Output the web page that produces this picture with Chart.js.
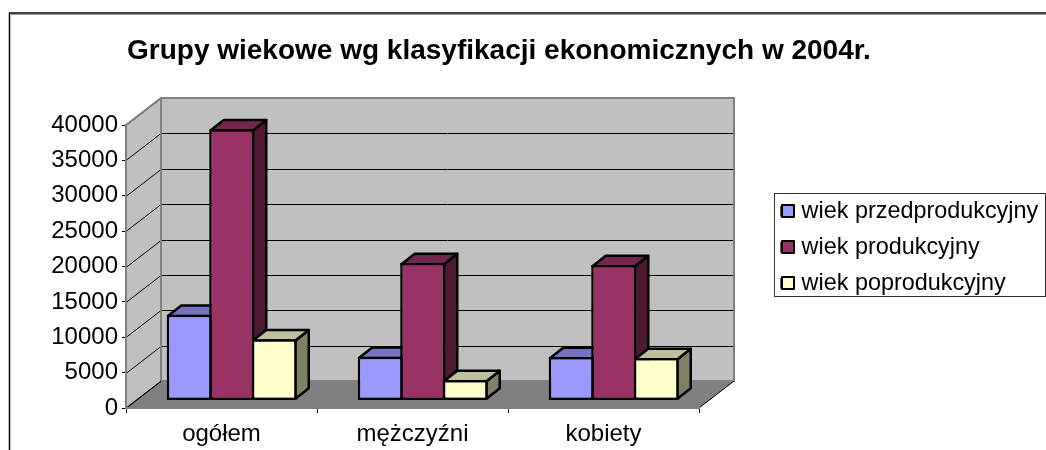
<!DOCTYPE html>
<html><head><meta charset="utf-8">
<style>html,body{margin:0;padding:0;background:#fff}canvas{display:block}</style>
<script src="https://cdn.jsdelivr.net/npm/chart.js@4/dist/chart.umd.min.js"></script>
</head><body><canvas id="c" width="1046" height="450" style="width:1046px;height:450px"></canvas>
<script>
const categories = ['ogółem', 'mężczyźni', 'kobiety'];
const wiekPrzedprodukcyjny = [12130, 6190, 6150];
const wiekProdukcyjny = [38330, 19430, 19150];
const wiekPoprodukcyjny = [8650, 2900, 6010];
const seriesLabels = ['wiek przedprodukcyjny', 'wiek produkcyjny', 'wiek poprodukcyjny'];
const titleText = 'Grupy wiekowe wg klasyfikacji ekonomicznych w 2004r.';
const fills = ['#9999FF', '#993366', '#FFFFCC'];
const tops = ['#7373BF', '#73264D', '#BFBF99'];
const sides = ['#4D4D80', '#4D1933', '#808066'];
const WALL = {dx: 35, dy: -27};
const BAR = {ox: 10.2, oy: -7.5, dx: 13.3, dy: -10.5, lw: 2.5};
const LEGEND_BOX = {x: 774, y: 193, w: 272, h: 104, swatchX: 782, swatchSize: 12, firstRow: 211, rowGap: 36};
const FONT = '"Liberation Sans", Arial, sans-serif';

function poly(ctx, pts, fill, stroke, lw) {
  ctx.beginPath();
  pts.forEach((p, i) => i ? ctx.lineTo(p[0], p[1]) : ctx.moveTo(p[0], p[1]));
  ctx.closePath();
  if (fill) { ctx.fillStyle = fill; ctx.fill(); }
  if (stroke) { ctx.strokeStyle = stroke; ctx.lineWidth = lw; ctx.lineJoin = 'round'; ctx.stroke(); }
}
const scene = {
  id: 'scene',
  afterLayout(chart) {
    const l = chart.legend, t = chart.titleBlock;
    l.left = 769; l.right = 1046; l.top = 187; l.bottom = 450;
    t.left = 127; t.right = 900; t.top = 34; t.bottom = 125;
  },
  beforeDraw(chart) {
    const c = chart.ctx, a = chart.chartArea, y = chart.scales.y;
    const {dx, dy} = WALL;
    c.save();
    c.fillStyle = '#fff'; c.fillRect(0, 0, chart.width, chart.height);
    c.strokeStyle = '#000'; c.lineWidth = 1.5;
    c.beginPath(); c.moveTo(9.5, 450); c.lineTo(9.5, 13); c.lineTo(1046, 13); c.stroke();
    c.strokeStyle = '#999'; c.lineWidth = 1;
    c.beginPath(); c.moveTo(11, 14.5); c.lineTo(1046, 14.5); c.stroke();
    // walls and floor
    poly(c, [[a.left + dx, a.top + dy], [a.right + dx, a.top + dy], [a.right + dx, a.bottom + dy], [a.left + dx, a.bottom + dy]], '#C0C0C0');
    poly(c, [[a.left, a.top], [a.left + dx, a.top + dy], [a.left + dx, a.bottom + dy], [a.left, a.bottom]], '#C0C0C0');
    poly(c, [[a.left, a.bottom], [a.left + dx, a.bottom + dy], [a.right + dx, a.bottom + dy], [a.right, a.bottom]], '#808080');
    // grid lines from the value scale
    c.strokeStyle = '#000'; c.lineWidth = 1;
    y.ticks.forEach(t => {
      const py = Math.round(y.getPixelForValue(t.value)) + 0.5;
      c.beginPath(); c.moveTo(a.left, py); c.lineTo(a.left + dx, py + dy);
      if (t.value > 0 && t.value < 40000) c.lineTo(a.right + dx, py + dy);
      c.stroke();
    });
    // wall edges
    c.strokeStyle = '#808080'; c.lineWidth = 2;
    c.beginPath();
    c.moveTo(a.left, a.top); c.lineTo(a.left + dx, a.top + dy); c.lineTo(a.right + dx, a.top + dy); c.lineTo(a.right + dx, a.bottom + dy); c.lineTo(a.left + dx, a.bottom + dy);
    c.moveTo(a.left + dx, a.top + dy); c.lineTo(a.left + dx, a.bottom + dy);
    c.stroke();
    c.strokeStyle = '#000'; c.lineWidth = 1;
    c.beginPath(); c.moveTo(a.left, a.bottom); c.lineTo(a.left + dx, a.bottom + dy);
    c.moveTo(a.right, a.bottom); c.lineTo(a.right + dx, a.bottom + dy); c.stroke();
    c.restore();
  },
  beforeDatasetsDraw(chart) {
    const c = chart.ctx;
    c.save();
    const {ox, oy, dx, dy, lw} = BAR;
    chart.data.datasets.forEach((ds, di) => {
      chart.getDatasetMeta(di).data.forEach(b => {
        const L = b.x - b.width / 2 + ox + lw / 2, R = b.x + b.width / 2 + ox - lw / 2, T = b.y + oy + lw / 2, B = b.base + oy - lw / 2;
        poly(c, [[R, T], [R + dx, T + dy], [R + dx, B + dy], [R, B]], sides[di], '#000', lw);
        poly(c, [[L, T], [L + dx, T + dy], [R + dx, T + dy], [R, T]], tops[di], '#000', lw);
      });
    });
    c.restore();
    c.save();
    c.translate(ox, oy);
  },
  afterDatasetsDraw(chart) { chart.ctx.restore(); },
  afterDraw(chart) {
    const c = chart.ctx, B = LEGEND_BOX;
    c.save();
    c.strokeStyle = '#333'; c.lineWidth = 1;
    c.strokeRect(B.x + .5, B.y + .5, B.w - 1, B.h - 1);
    fills.forEach((f, i) => {
      const y = B.firstRow + i * B.rowGap - B.swatchSize / 2;
      c.fillStyle = f; c.fillRect(B.swatchX, y, B.swatchSize, B.swatchSize);
      c.strokeStyle = '#000'; c.lineWidth = 2; c.lineJoin = 'round';
      c.strokeRect(B.swatchX, y, B.swatchSize, B.swatchSize);
    });
    c.restore();
  }
};
new Chart(document.getElementById('c'), {
  type: 'bar',
  data: {
    labels: categories,
    datasets: [wiekPrzedprodukcyjny, wiekProdukcyjny, wiekPoprodukcyjny].map((d, i) => ({
      label: seriesLabels[i], data: d, backgroundColor: fills[i], borderColor: '#000', borderWidth: BAR.lw,
      borderSkipped: false, barPercentage: 1.059, categoryPercentage: 0.6675
    }))
  },
  options: {
    responsive: false, animation: false,
    layout: {padding: {left: 0, top: 0, right: 347, bottom: 0}},
    plugins: {
      tooltip: {enabled: false},
      title: {display: true, text: titleText, color: '#000', align: 'start',
        font: {family: FONT, size: 28, weight: 'bold', lineHeight: 1.2},
        padding: {top: 0, bottom: 91.4}},
      legend: {position: 'chartArea', align: 'start',
        labels: {color: '#000', boxWidth: 8.3, boxHeight: 8, padding: 12.6,
          font: {family: FONT, size: 23.4}}}
    },
    scales: {
      x: {
        afterFit(s) { s.height = 42; },
        grid: {drawOnChartArea: false, drawTicks: true, tickLength: 5, color: '#000'},
        border: {color: '#808080', width: 2},
        ticks: {color: '#000', padding: 7, font: {family: FONT, size: 24}, maxRotation: 0}
      },
      y: {
        min: 0, max: 40000,
        afterFit(s) { s.width = 126; },
        grid: {drawOnChartArea: false, drawTicks: true, tickLength: 4, color: '#000'},
        border: {color: '#808080', width: 2},
        ticks: {stepSize: 5000, color: '#000', padding: 4, font: {family: FONT, size: 24},
          callback: v => String(v)}
      }
    }
  },
  plugins: [scene]
});
</script></body></html>
